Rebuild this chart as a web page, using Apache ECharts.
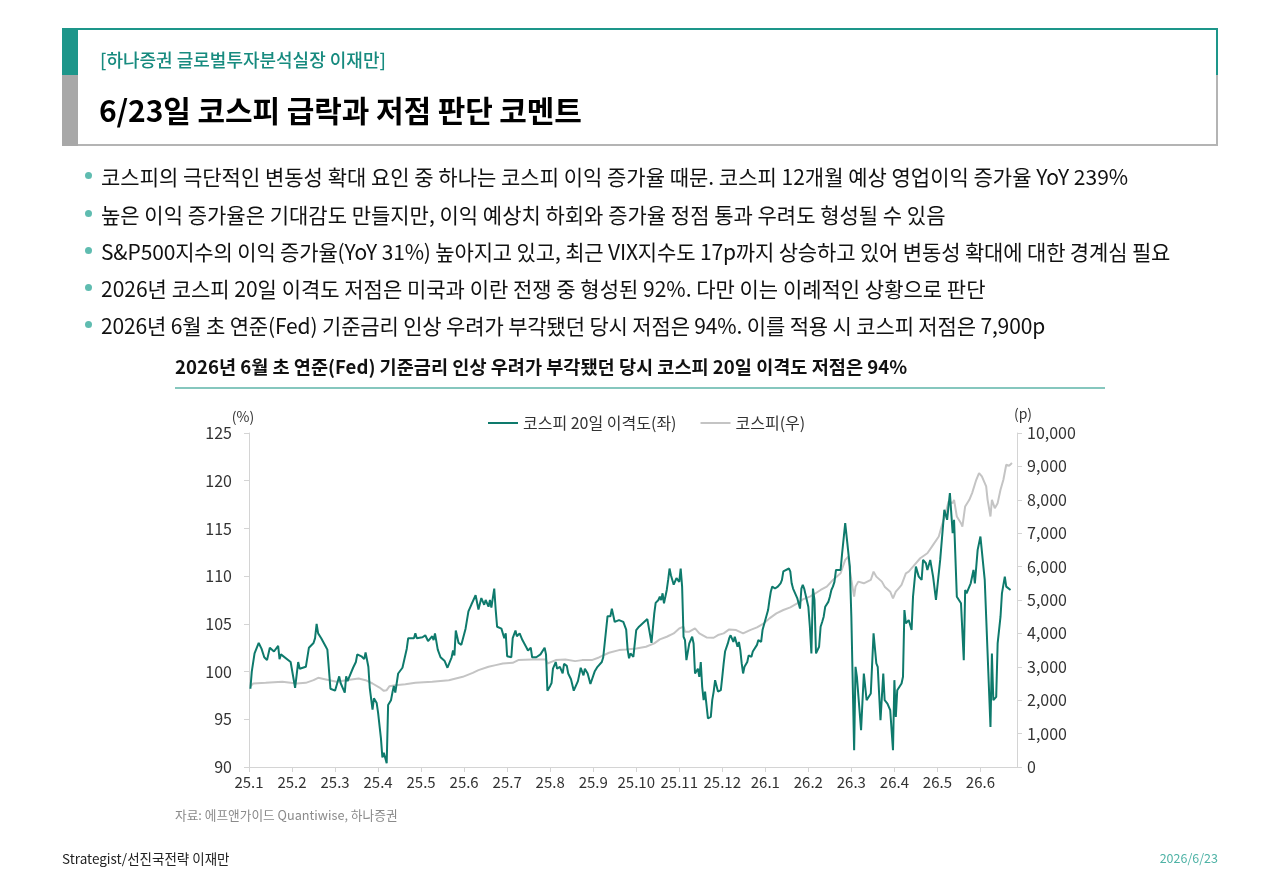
<!DOCTYPE html>
<html><head><meta charset="utf-8">
<script src="https://cdn.jsdelivr.net/npm/echarts@6/dist/echarts.min.js"></script>
<style>
html,body{margin:0;padding:0;background:#fff;width:1280px;height:886px;overflow:hidden;font-family:"Noto Sans CJK KR","Noto Sans",sans-serif;}
#chart{position:absolute;left:0;top:0;width:1280px;height:886px;}
.abs{position:absolute;white-space:nowrap;}
.bar{position:absolute;}
.bul{position:absolute;left:101px;font-size:21px;color:#111;letter-spacing:0;line-height:24px;white-space:nowrap;}
.dot{position:absolute;left:85px;width:7px;height:7px;border-radius:50%;background:#5fbcb0;}
</style></head>
<body>
<div id="chart"></div>
<!-- header box -->
<div class="bar" style="left:62px;top:28px;width:1156px;height:2px;background:#1d968a"></div>
<div class="bar" style="left:1216px;top:28px;width:2px;height:47px;background:#1d968a"></div>
<div class="bar" style="left:1216px;top:75px;width:2px;height:71px;background:#b4b4b4"></div>
<div class="bar" style="left:62px;top:144px;width:1156px;height:2px;background:#b4b4b4"></div>
<div class="bar" style="left:62px;top:28px;width:16px;height:47px;background:#1d968a"></div>
<div class="bar" style="left:62px;top:75px;width:16px;height:71px;background:#a8a8a8"></div>
<div class="abs" style="left:100px;top:47px;font-size:18px;line-height:24px;color:#178b7f;font-weight:500;">[하나증권 글로벌투자분석실장 이재만]</div>
<div class="abs" style="left:99px;top:89px;font-size:30px;line-height:40px;color:#000;font-weight:700;letter-spacing:-0.1px">6/23일 코스피 급락과 저점 판단 코멘트</div>
<!-- bullets -->
<div class="dot" style="top:172px"></div>
<div class="bul" style="top:164px">코스피의 극단적인 변동성 확대 요인 중 하나는 코스피 이익 증가율 때문. 코스피 12개월 예상 영업이익 증가율 YoY 239%</div>
<div class="dot" style="top:210px"></div>
<div class="bul" style="top:202px">높은 이익 증가율은 기대감도 만들지만, 이익 예상치 하회와 증가율 정점 통과 우려도 형성될 수 있음</div>
<div class="dot" style="top:247px"></div>
<div class="bul" style="top:239px;letter-spacing:-0.15px">S&amp;P500지수의 이익 증가율(YoY 31%) 높아지고 있고, 최근 VIX지수도 17p까지 상승하고 있어 변동성 확대에 대한 경계심 필요</div>
<div class="dot" style="top:284px"></div>
<div class="bul" style="top:276px">2026년 코스피 20일 이격도 저점은 미국과 이란 전쟁 중 형성된 92%. 다만 이는 이례적인 상황으로 판단</div>
<div class="dot" style="top:321px"></div>
<div class="bul" style="top:313px;letter-spacing:-0.15px">2026년 6월 초 연준(Fed) 기준금리 인상 우려가 부각됐던 당시 저점은 94%. 이를 적용 시 코스피 저점은 7,900p</div>
<!-- chart title -->
<div class="abs" style="left:175px;top:354px;font-size:18.6px;line-height:24px;font-weight:700;color:#111;">2026년 6월 초 연준(Fed) 기준금리 인상 우려가 부각됐던 당시 코스피 20일 이격도 저점은 94%</div>
<div class="bar" style="left:175px;top:387px;width:930px;height:2px;background:#86c7be"></div>
<!-- source & footer -->
<div class="abs" style="left:175px;top:806px;font-size:12.7px;line-height:17px;color:#8a8a8a">자료: 에프앤가이드 Quantiwise, 하나증권</div>
<div class="abs" style="left:62px;top:849px;font-size:13.5px;line-height:18px;color:#222">Strategist/선진국전략 이재만</div>
<div class="abs" style="right:62px;top:850px;font-size:12.5px;line-height:16px;color:#4fb3a6">2026/6/23</div>
<script>
// ---- data ----
const tickLabels = ['25.1','25.2','25.3','25.4','25.5','25.6','25.7','25.8','25.9','25.10','25.11','25.12','26.1','26.2','26.3','26.4','26.5','26.6'];
const seriesNames = ['코스피 20일 이격도(좌)', '코스피(우)'];

const dispDates = [
'2025-01-02','2025-01-03','2025-01-05','2025-01-08','2025-01-10','2025-01-12','2025-01-14','2025-01-16','2025-01-19','2025-01-22','2025-01-23','2025-01-24','2025-01-31',
'2025-02-03','2025-02-05','2025-02-06','2025-02-10','2025-02-12','2025-02-15','2025-02-16','2025-02-17','2025-02-18','2025-02-20','2025-02-23','2025-02-24','2025-02-26',
'2025-03-01','2025-03-02','2025-03-04','2025-03-05','2025-03-06','2025-03-08','2025-03-09','2025-03-10','2025-03-14','2025-03-16','2025-03-17','2025-03-20','2025-03-22','2025-03-23','2025-03-25','2025-03-26','2025-03-28','2025-03-29','2025-03-31',
'2025-04-01','2025-04-03','2025-04-04','2025-04-05','2025-04-07','2025-04-08','2025-04-10','2025-04-11','2025-04-12','2025-04-13','2025-04-15','2025-04-18','2025-04-21','2025-04-22','2025-04-26','2025-04-27','2025-04-28',
'2025-05-02','2025-05-04','2025-05-06','2025-05-07','2025-05-09','2025-05-10','2025-05-11','2025-05-13','2025-05-15','2025-05-18','2025-05-20','2025-05-23','2025-05-24','2025-05-25','2025-05-26','2025-05-28','2025-05-30',
'2025-06-02','2025-06-04','2025-06-06','2025-06-09','2025-06-11','2025-06-13','2025-06-15','2025-06-16','2025-06-18','2025-06-19','2025-06-20','2025-06-22','2025-06-23','2025-06-24','2025-06-27','2025-06-29','2025-06-30',
'2025-07-01','2025-07-04','2025-07-05','2025-07-07','2025-07-08','2025-07-10','2025-07-12','2025-07-15','2025-07-16','2025-07-18','2025-07-19','2025-07-22','2025-07-25','2025-07-28','2025-07-29','2025-07-30',
'2025-08-01','2025-08-02','2025-08-03','2025-08-05','2025-08-06','2025-08-08','2025-08-10','2025-08-11','2025-08-13','2025-08-14','2025-08-16','2025-08-18','2025-08-21','2025-08-23','2025-08-25','2025-08-26','2025-08-28','2025-08-30',
'2025-09-02','2025-09-04','2025-09-07','2025-09-08','2025-09-11','2025-09-13','2025-09-14','2025-09-16','2025-09-19','2025-09-22','2025-09-24','2025-09-25','2025-09-26','2025-09-27','2025-09-29',
'2025-10-01','2025-10-03','2025-10-09','2025-10-12','2025-10-14','2025-10-15','2025-10-17','2025-10-18','2025-10-19','2025-10-20','2025-10-21','2025-10-23','2025-10-24','2025-10-25','2025-10-26','2025-10-27','2025-10-28','2025-10-30',
'2025-11-01','2025-11-02','2025-11-03','2025-11-04','2025-11-05','2025-11-06','2025-11-08','2025-11-10','2025-11-11','2025-11-12','2025-11-14','2025-11-15','2025-11-16','2025-11-17','2025-11-18','2025-11-19','2025-11-21','2025-11-22','2025-11-23','2025-11-24','2025-11-25','2025-11-26','2025-11-28','2025-11-30',
'2025-12-01','2025-12-02','2025-12-03','2025-12-05','2025-12-06','2025-12-07','2025-12-08','2025-12-09','2025-12-10','2025-12-12','2025-12-13','2025-12-14','2025-12-15','2025-12-16','2025-12-17','2025-12-19','2025-12-20','2025-12-22','2025-12-23','2025-12-26','2025-12-27','2025-12-29','2025-12-30',
'2026-01-01','2026-01-03','2026-01-04','2026-01-05','2026-01-06','2026-01-08','2026-01-10','2026-01-11','2026-01-12','2026-01-13','2026-01-14','2026-01-15','2026-01-18','2026-01-19','2026-01-20','2026-01-21','2026-01-22','2026-01-24','2026-01-25','2026-01-26','2026-01-27','2026-01-28','2026-01-29',
'2026-02-01','2026-02-02','2026-02-03','2026-02-04','2026-02-05','2026-02-06','2026-02-08','2026-02-09','2026-02-10','2026-02-11','2026-02-12','2026-02-13','2026-02-14','2026-02-15','2026-02-16','2026-02-17','2026-02-18','2026-02-19','2026-02-20','2026-02-22','2026-02-23','2026-02-25','2026-02-28',
'2026-03-01','2026-03-03','2026-03-04','2026-03-05','2026-03-08','2026-03-10','2026-03-12','2026-03-15','2026-03-17','2026-03-19','2026-03-20','2026-03-22','2026-03-24','2026-03-25','2026-03-27','2026-03-29','2026-03-31',
'2026-04-01','2026-04-02','2026-04-03','2026-04-06','2026-04-07','2026-04-08','2026-04-09','2026-04-11','2026-04-13','2026-04-14','2026-04-16','2026-04-18','2026-04-20','2026-04-21','2026-04-23','2026-04-24','2026-04-26','2026-04-28','2026-04-30',
'2026-05-03','2026-05-06','2026-05-08','2026-05-10','2026-05-12','2026-05-13','2026-05-15','2026-05-18','2026-05-20','2026-05-21','2026-05-22','2026-05-25','2026-05-27','2026-05-28','2026-05-30',
'2026-06-01','2026-06-04','2026-06-08','2026-06-09','2026-06-10','2026-06-12','2026-06-13','2026-06-15','2026-06-16','2026-06-18','2026-06-19','2026-06-22'
];
const dispValues = [
98.2,100.0,101.9,103.0,102.4,101.5,101.2,102.5,102.1,102.7,101.3,101.8,101.0,
98.3,101.0,100.3,100.5,102.5,103.0,103.5,105.0,104.0,103.5,102.6,102.3,98.2,
98.0,97.9,99.5,98.8,99.0,97.8,99.5,99.0,100.4,101.0,101.8,101.6,101.3,102.0,100.5,98.3,96.0,97.2,96.7,
95.7,93.0,91.0,91.5,90.4,96.5,97.0,97.8,98.5,97.8,99.8,100.4,102.4,103.5,103.5,104.0,103.5,
103.6,103.8,103.2,103.4,103.7,103.3,104.0,102.3,101.5,101.1,100.4,101.5,102.2,101.7,104.3,103.0,102.8,
104.5,106.3,107.0,108.0,106.5,107.7,107.0,107.5,106.8,107.5,106.7,108.7,106.5,104.7,104.5,103.5,104.0,
101.6,101.5,103.5,104.3,103.7,104.0,103.3,102.5,102.2,102.5,101.5,101.5,101.8,102.5,101.8,98.0,
98.5,98.8,100.3,101.0,100.3,100.5,99.8,100.8,100.6,99.8,99.2,98.0,99.0,100.4,99.6,100.3,99.8,98.7,
100.0,100.5,101.0,101.5,105.8,105.8,106.6,105.2,105.4,105.2,104.4,102.3,101.4,101.9,101.55,
104.35,104.7,105.5,103.0,106.1,107.2,107.5,107.85,107.5,108.2,107.15,108.55,109.6,110.8,110.1,109.6,109.1,109.8,
109.4,110.8,108.9,103.65,103.3,101.2,102.95,103.65,102.95,99.8,100.3,99.45,101.0,98.4,97.0,97.9,95.1,95.1,95.25,97.0,97.9,99.1,97.9,98.05,
99.45,100.85,102.1,102.95,103.5,103.8,103.65,103.1,103.65,102.6,103.1,102.25,100.85,99.8,100.5,101.0,101.7,101.55,102.1,102.8,103.3,103.1,104.35,
105.4,106.45,107.5,108.4,108.9,108.7,108.9,109.1,109.25,109.6,110.5,110.65,110.8,110.5,109.25,108.7,108.55,107.7,107.15,106.6,108.7,109.1,108.7,
106.8,104.7,101.9,108.7,107.5,101.9,102.6,104.7,105.2,105.75,106.8,106.95,107.3,107.85,108.55,108.9,109.4,110.65,110.7,110.65,112.4,115.55,111.0,
105.75,91.75,100.5,99.45,93.85,99.8,97.0,97.7,104.0,100.85,100.5,94.9,99.8,97.0,96.65,95.95,91.75,
99.1,95.25,98.05,98.75,99.45,106.45,105.05,105.4,104.35,107.85,111.0,109.95,109.6,111.7,111.35,110.65,111.7,109.95,107.5,
111.7,116.95,115.9,118.7,114.5,115.9,107.85,107.15,101.2,108.55,108.2,109.25,110.65,109.25,112.75,
114.15,109.6,94.2,101.9,97.0,97.35,102.95,105.75,108.2,109.95,108.9,108.55
];

const kospiDates = [
'2025-01-02','2025-01-04','2025-01-13','2025-01-25','2025-02-04','2025-02-10','2025-02-15','2025-02-18','2025-02-23','2025-02-27',
'2025-03-02','2025-03-09','2025-03-18','2025-03-23','2025-03-28','2025-04-02','2025-04-05','2025-04-07','2025-04-09','2025-04-13','2025-04-20','2025-04-27',
'2025-05-09','2025-05-21','2025-05-26','2025-05-31','2025-06-07','2025-06-11','2025-06-18','2025-06-23','2025-06-28',
'2025-07-05','2025-07-09','2025-07-19','2025-07-29','2025-07-30','2025-08-05','2025-08-12','2025-08-19','2025-08-24','2025-08-31',
'2025-09-05','2025-09-12','2025-09-19','2025-09-24','2025-10-01','2025-10-08','2025-10-14','2025-10-18','2025-10-23','2025-10-28',
'2025-11-01','2025-11-04','2025-11-05','2025-11-08','2025-11-12','2025-11-15','2025-11-20','2025-11-25','2025-11-28',
'2025-12-02','2025-12-06','2025-12-11','2025-12-16','2025-12-21','2025-12-26','2025-12-31',
'2026-01-04','2026-01-09','2026-01-14','2026-01-19','2026-01-24','2026-01-28',
'2026-02-02','2026-02-05','2026-02-09','2026-02-13','2026-02-17','2026-02-22','2026-02-25','2026-02-27','2026-02-28',
'2026-03-01','2026-03-03','2026-03-04','2026-03-06','2026-03-10','2026-03-15','2026-03-17','2026-03-19','2026-03-23','2026-03-25','2026-03-29','2026-03-31',
'2026-04-02','2026-04-04','2026-04-06','2026-04-09','2026-04-11','2026-04-14','2026-04-19','2026-04-24','2026-04-28',
'2026-05-02','2026-05-04','2026-05-07','2026-05-09','2026-05-12','2026-05-13','2026-05-15','2026-05-18','2026-05-19','2026-05-21','2026-05-24','2026-05-26','2026-05-29','2026-05-31',
'2026-06-02','2026-06-05','2026-06-06','2026-06-08','2026-06-09','2026-06-11','2026-06-13','2026-06-15','2026-06-17','2026-06-19','2026-06-21','2026-06-23'
];
const kospiValues = [
2420,2500,2520,2550,2500,2520,2600,2670,2620,2580,
2550,2600,2650,2600,2500,2380,2280,2300,2420,2450,2480,2520,
2550,2600,2650,2700,2820,2900,3000,3050,3100,
3120,3200,3220,3220,3100,3200,3220,3170,3200,3200,
3280,3420,3500,3520,3550,3600,3700,3820,3900,4000,
4150,4200,4050,4050,4150,4000,3880,3870,3950,
4000,4120,4100,4000,4100,4180,4300,
4450,4600,4700,4780,4900,5020,
5100,5180,5300,5400,5600,5800,6200,6300,5900,
5600,5100,5400,5550,5500,5600,5850,5700,5550,5400,5250,5050,
5250,5350,5450,5800,5850,6000,6250,6400,6650,
6900,7200,7600,7950,7900,8000,7500,7300,7200,7800,8000,8200,8600,8800,
8700,8400,8000,7500,8000,7750,7900,8300,8600,9050,9020,9100
];

// date -> month position on the x value axis (0 = 2025-01-01)
function monthPos(s){
  const p = s.split('-').map(Number);
  const dim = new Date(p[0], p[1], 0).getDate();
  return (p[0]-2025)*12 + (p[1]-1) + (p[2]-1)/dim;
}
const dispData = dispDates.map((d,i)=>[monthPos(d), dispValues[i]]);
const kospiData = kospiDates.map((d,i)=>[monthPos(d), kospiValues[i]]);

const FONT = '"Noto Sans CJK KR","Noto Sans",sans-serif';
const axisCol = '#d4d4d4';
const chart = echarts.init(document.getElementById('chart'), null, {renderer:'canvas'});
chart.setOption({
  animation:false,
  backgroundColor:'transparent',
  textStyle:{fontFamily:FONT},
  grid:{left:249, right:263, top:433, bottom:119, containLabel:false},
  legend:{
    top:410, left:483,
    icon:'rect', itemWidth:30, itemHeight:2, itemGap:24,
    textStyle:{fontSize:16, color:'#333', fontFamily:FONT},
    data:seriesNames
  },
  xAxis:{
    type:'value', min:0, max:17.85, interval:1,
    axisLine:{show:true, lineStyle:{color:axisCol, width:1}},
    axisTick:{show:true, length:5, lineStyle:{color:axisCol}},
    splitLine:{show:false},
    axisLabel:{
      fontSize:15, color:'#333', margin:8, fontFamily:FONT, showMaxLabel:false,
      formatter:function(v){ const i=Math.round(v); return (Math.abs(v-i)<1e-6 && i<tickLabels.length) ? tickLabels[i] : ''; }
    }
  },
  yAxis:[
    {type:'value', position:'left', min:90, max:125, interval:5,
     name:'(%)', nameLocation:'end', nameGap:9,
     nameTextStyle:{fontSize:14, color:'#333', fontFamily:FONT, align:'center', padding:[0,12,0,0]},
     axisLine:{show:true, lineStyle:{color:axisCol}},
     axisTick:{show:true, length:5, lineStyle:{color:axisCol}},
     splitLine:{show:false},
     axisLabel:{fontSize:16, color:'#333', margin:17, fontFamily:FONT}
    },
    {type:'value', position:'right', min:0, max:10000, interval:1000,
     name:'(p)', nameLocation:'end', nameGap:12,
     nameTextStyle:{fontSize:14, color:'#333', fontFamily:FONT, align:'center', padding:[0,0,0,12]},
     axisLine:{show:true, lineStyle:{color:axisCol}},
     axisTick:{show:true, length:5, lineStyle:{color:axisCol}},
     splitLine:{show:false},
     axisLabel:{fontSize:16, color:'#333', margin:10, fontFamily:FONT,
       formatter:function(v){ return v.toLocaleString('en-US'); }}
    }
  ],
  series:[
    {name:seriesNames[0], type:'line', yAxisIndex:0, data:dispData, showSymbol:false, z:3,
     lineStyle:{color:'#0e7a6c', width:2}, itemStyle:{color:'#0e7a6c'}},
    {name:seriesNames[1], type:'line', yAxisIndex:1, data:kospiData, showSymbol:false, z:2,
     lineStyle:{color:'#c4c4c4', width:2}, itemStyle:{color:'#c4c4c4'}}
  ]
});
</script>
</body></html>
